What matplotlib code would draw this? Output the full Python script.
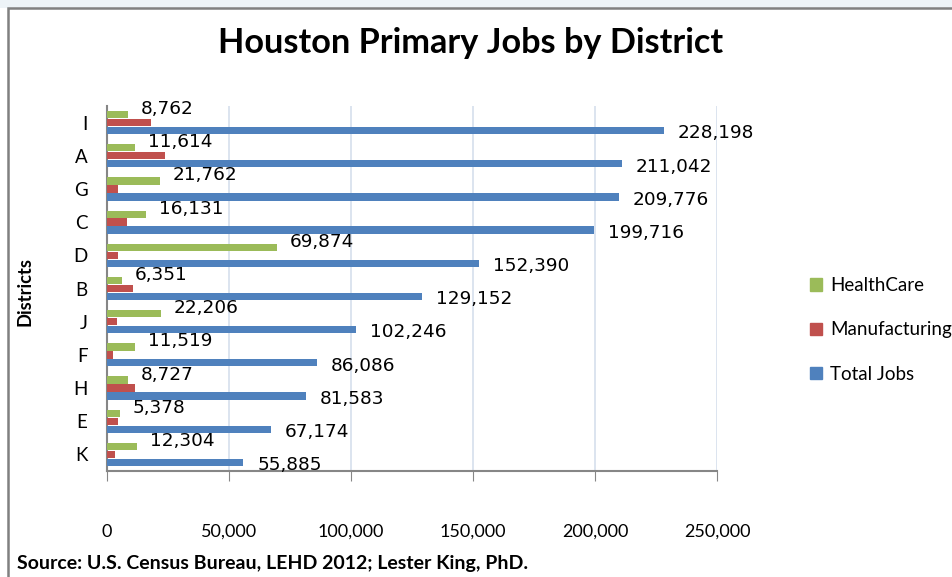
import numpy as np
import matplotlib.pyplot as plt
from matplotlib.patches import Rectangle, Patch

# ---- data ----
districts = ['K', 'E', 'H', 'F', 'J', 'B', 'D', 'C', 'G', 'A', 'I']
total_jobs = [55885, 67174, 81583, 86086, 102246, 129152, 152390, 199716, 209776, 211042, 228198]
manufacturing = [3300, 4500, 11300, 2300, 3900, 10500, 4500, 8000, 4500, 23600, 17900]
healthcare = [12304, 5378, 8727, 11519, 22206, 6351, 69874, 16131, 21762, 11614, 8762]
xticks = [0, 50000, 100000, 150000, 200000, 250000]

c_total = '#4F81BD'
c_manu = '#C0504D'
c_health = '#9BBB59'

W, H = 952, 577
fig = plt.figure(figsize=(W / 100, H / 100), dpi=100)
fig.patch.set_facecolor('white')

# light strip above the chart frame + frame
fig.add_artist(Rectangle((0, (H - 8) / H), 1, 8 / H, transform=fig.transFigure,
                         facecolor='#edf3f7', edgecolor='none', zorder=0))
fig.add_artist(Rectangle((8 / W, -0.05), 1.1, (H - 8) / H + 0.05, transform=fig.transFigure,
                         facecolor='white', edgecolor='#808080', lw=1.8, zorder=0))

left, right, top, bottom = 107, 717, 106, 471
ax = fig.add_axes([left / W, (H - bottom) / H, (right - left) / W, (bottom - top) / H])
ax.set_facecolor('none')

y = np.arange(len(districts))
h = 0.22
off = 0.24
ax.barh(y + off, healthcare, height=h, color=c_health, label='HealthCare', zorder=3)
ax.barh(y, manufacturing, height=h, color=c_manu, label='Manufacturing', zorder=3)
ax.barh(y - off, total_jobs, height=h, color=c_total, label='Total Jobs', zorder=3)

lab_font = dict(family='DejaVu Sans', fontsize=13.3, color='black')
for yi, v in zip(y, healthcare):
    ax.annotate(f'{v:,}', (v, yi + off), xytext=(9, 4), textcoords='offset points',
                ha='left', va='center', **lab_font)
for yi, v in zip(y, total_jobs):
    ax.annotate(f'{v:,}', (v, yi - off), xytext=(10, -2), textcoords='offset points',
                ha='left', va='center', **lab_font)

ax.set_xlim(0, 250000)
ax.set_ylim(-0.5, len(districts) - 0.5)
ax.set_xticks(xticks)
ax.set_xticklabels([f'{t:,}' for t in xticks], family='Lato', fontsize=13)
ax.set_yticks(y)
ax.set_yticklabels(districts, family='Lato', fontsize=13.5)
ax.tick_params(axis='x', direction='out', length=7, pad=31, color='#868686')
ax.tick_params(axis='y', length=0, pad=14)
ax.grid(axis='x', color='#d5dfec', lw=1.2, zorder=0)
ax.set_axisbelow(True)
for s in ['top', 'right']:
    ax.spines[s].set_visible(False)
for s in ['left', 'bottom']:
    ax.spines[s].set_color('#868686')
    ax.spines[s].set_linewidth(1.5)

fig.text(471 / W, (H - 43) / H, 'Houston Primary Jobs by District', ha='center', va='center',
         family='Lato', fontweight='bold', fontsize=24.7)
fig.text(25 / W, (H - 291) / H, 'Districts', rotation=90, ha='center', va='center',
         family='Lato', fontweight='bold', fontsize=13.2)
fig.text(17 / W, (H - 564) / H, 'Source: U.S. Census Bureau, LEHD 2012; Lester King, PhD.',
         ha='left', va='center', family='Lato', fontweight='bold', fontsize=14)

handles = [Patch(color=c_health, label='HealthCare'),
           Patch(color=c_manu, label='Manufacturing'),
           Patch(color=c_total, label='Total Jobs')]
fig.legend(handles=handles, loc='center left', bbox_to_anchor=(793 / W, (H - 330) / H),
           frameon=False, handlelength=0.65, handleheight=0.65, handletextpad=0.45,
           labelspacing=1.45, prop=dict(family='Lato', size=13.5))

fig.savefig('out.png', dpi=100)
